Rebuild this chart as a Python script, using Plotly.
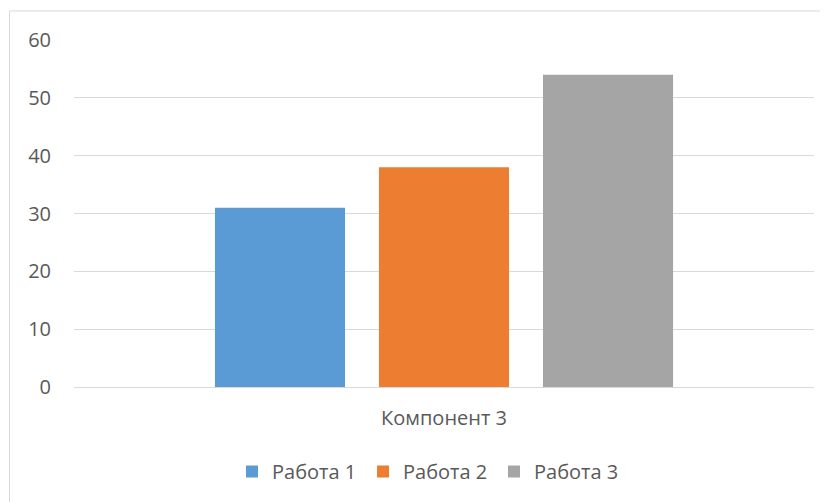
import plotly.graph_objects as go

categories = ["Компонент 3"]
series_names = ["Работа 1", "Работа 2", "Работа 3"]
series_values = [[31], [38], [54]]
colors = ["#5B9BD5", "#ED7D31", "#A5A5A5"]
y_ticks = [0, 10, 20, 30, 40, 50, 60]

fig = go.Figure()
for name, vals, c in zip(series_names, series_values, colors):
    fig.add_trace(go.Bar(x=categories, y=vals, name=name, marker=dict(color=c, line=dict(width=0))))

font = dict(family="'Open Sans', sans-serif", size=20, color="#595959")
W, H = 828, 502
L, R, T = 66, 22, 32
B = H - 378.6
pw = W - L - R
ph = H - T - B

def px_x(p):
    return (p - L) / pw

def px_y(p):
    return (H - B - p) / ph

fig.update_layout(
    width=W, height=H,
    margin=dict(l=L, r=R, t=T, b=B, pad=0),
    paper_bgcolor="white", plot_bgcolor="white",
    font=font,
    barmode="group",
    bargap=0.335,
    bargroupgap=0.207,
    showlegend=True,
    legend=dict(orientation="h", x=px_x(224), xanchor="left", y=px_y(463), yanchor="middle",
                entrywidth=86, font=font, bgcolor="rgba(0,0,0,0)", itemclick=False),
    xaxis=dict(showgrid=False, showline=False, ticks="", zeroline=False,
               ticklabelstandoff=17, tickfont=font),
    yaxis=dict(range=[0, 60], tickvals=y_ticks, showgrid=True, gridcolor="#D9D9D9", gridwidth=1,
               zeroline=True, zerolinecolor="#D9D9D9", zerolinewidth=1, showline=False, ticks="",
               ticklabelstandoff=22, tickfont=font),
    shapes=[dict(type="rect", xref="paper", yref="paper",
                 x0=px_x(1.5), x1=px_x(840), y0=px_y(520), y1=px_y(3),
                 line=dict(color="#D9D9D9", width=1), fillcolor="rgba(0,0,0,0)", layer="below")],
)

fig.write_html("out.html")
